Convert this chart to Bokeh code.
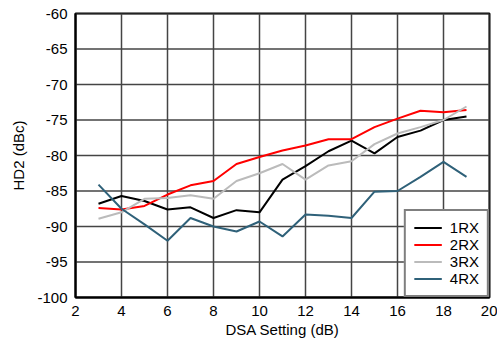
from bokeh.plotting import figure
from bokeh.models import Legend, LegendItem, FixedTicker, Range1d, PrintfTickFormatter
from bokeh.embed import file_html
from bokeh.resources import INLINE

dsa = [3, 4, 5, 6, 7, 8, 9, 10, 11, 12, 13, 14, 15, 16, 17, 18, 19]
rx1 = [-86.8, -85.7, -86.4, -87.6, -87.3, -88.8, -87.7, -88.0, -83.4, -81.5, -79.4, -77.9, -79.7, -77.4, -76.5, -75.0, -74.5]
rx2 = [-87.4, -87.6, -87.1, -85.5, -84.2, -83.6, -81.2, -80.2, -79.3, -78.6, -77.7, -77.7, -76.0, -74.8, -73.7, -73.9, -73.6]
rx3 = [-88.9, -88.0, -86.1, -86.0, -85.6, -86.1, -83.6, -82.5, -81.2, -83.4, -81.4, -80.8, -78.4, -76.9, -76.0, -75.0, -73.1]
rx4 = [-84.1, -87.5, -89.7, -92.0, -88.8, -90.0, -90.7, -89.3, -91.4, -88.3, -88.5, -88.8, -85.1, -85.0, -83.0, -80.9, -83.0]

series_names = ["1RX", "2RX", "3RX", "4RX"]
series_colors = ["#000000", "#ff0000", "#bbbbbb", "#2f6179"]
x_ticks = [2, 4, 6, 8, 10, 12, 14, 16, 18, 20]
y_ticks = [-100, -95, -90, -85, -80, -75, -70, -65, -60]

FONT = "Liberation Sans"

x_lo, x_hi = min(x_ticks), max(x_ticks)
y_lo, y_hi = min(y_ticks), max(y_ticks)

p = figure(width=497, height=343, output_backend="svg", toolbar_location=None,
           x_range=Range1d(x_lo, x_hi), y_range=Range1d(y_lo, y_hi),
           min_border_left=75, min_border_right=8, min_border_top=13, min_border_bottom=46)

p.outline_line_color = "black"
p.outline_line_width = 2
p.outline_line_alpha = 1

for ax in (p.xaxis[0], p.yaxis[0]):
    ax.major_tick_line_color = None
    ax.minor_tick_line_color = None
    ax.major_tick_out = 0
    ax.major_tick_in = 0
    ax.minor_tick_out = 0
    ax.minor_tick_in = 0
    ax.axis_line_color = "black"
    ax.axis_line_width = 2
    ax.major_label_text_font = FONT
    ax.major_label_text_font_size = "15px"
    ax.major_label_text_color = "black"
    ax.axis_label_text_font = FONT
    ax.axis_label_text_font_size = "15px"
    ax.axis_label_text_font_style = "normal"
    ax.axis_label_text_color = "black"
    ax.formatter = PrintfTickFormatter(format="%d")

p.xaxis.ticker = FixedTicker(ticks=x_ticks)
p.yaxis.ticker = FixedTicker(ticks=y_ticks)
p.xaxis.axis_label = "DSA Setting (dB)"
p.yaxis.axis_label = "HD2 (dBc)"
p.xaxis.major_label_standoff = 8
p.xaxis.axis_label_standoff = 2
p.yaxis.major_label_standoff = 8
p.yaxis.axis_label_standoff = 7

p.grid.visible = False

# grid drawn as plain lines at the tick positions
for t in x_ticks:
    p.line([t, t], [y_lo, y_hi], line_color="#444444", line_width=1.5)
for t in y_ticks:
    p.line([x_lo, x_hi], [t, t], line_color="#444444", line_width=1.5)

items = []
for name, color, ys in zip(series_names, series_colors, [rx1, rx2, rx3, rx4]):
    r = p.line(dsa, ys, line_color=color, line_width=2)
    items.append(LegendItem(label=name, renderers=[r]))

legend = Legend(items=items, location="bottom_right")
legend.margin = 0
legend.padding = 8
legend.spacing = 0
legend.label_height = 17
legend.glyph_height = 17
legend.glyph_width = 28
legend.label_standoff = 8
legend.label_text_font = FONT
legend.label_text_font_size = "15px"
legend.label_text_color = "black"
legend.border_line_color = "black"
legend.border_line_width = 2
legend.background_fill_color = "white"
legend.background_fill_alpha = 1
p.add_layout(legend, "center")

open("out.html", "w").write(file_html(p, INLINE))
